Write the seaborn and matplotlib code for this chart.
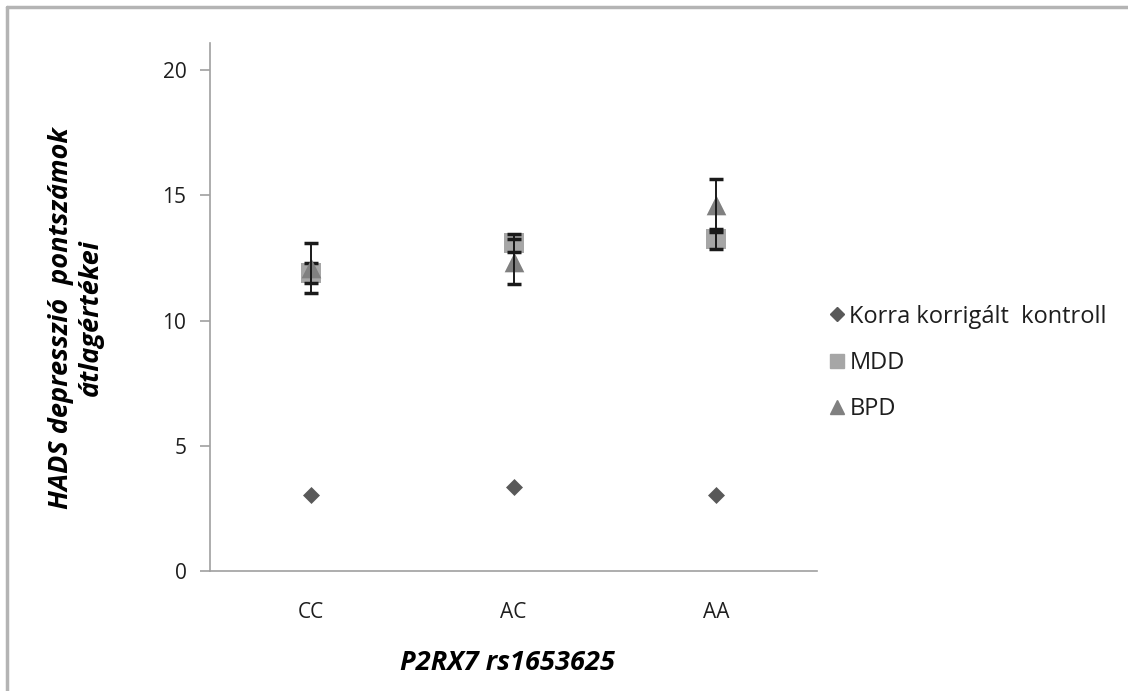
import numpy as np
import pandas as pd
import seaborn as sns
import matplotlib
matplotlib.use("Agg")
import matplotlib.pyplot as plt
from matplotlib.lines import Line2D

genotypes = ["CC", "AC", "AA"]
series_names = ["Korra korrigált  kontroll", "MDD", "BPD"]
control_mean = [3.03, 3.35, 3.03]
mdd_mean = [11.9, 13.1, 13.25]
mdd_err = [0.4, 0.35, 0.4]
bpd_mean = [12.1, 12.35, 14.6]
bpd_err = [1.0, 0.9, 1.05]
yticks = [0, 5, 10, 15, 20]

sns.set_theme(style="white")
FONT = ["Open Sans", "DejaVu Sans"]
plt.rcParams["font.family"] = FONT

fig = plt.figure(figsize=(11.28, 6.91), dpi=100)
ax = fig.add_axes([210/1128, 1 - 571/691, (817 - 210)/1128, (571 - 43)/691])

df = pd.DataFrame({
    "genotype": genotypes * 3,
    "group": [series_names[0]] * 3 + [series_names[1]] * 3 + [series_names[2]] * 3,
    "value": control_mean + mdd_mean + bpd_mean,
})
colors = {series_names[0]: "#595959", series_names[1]: "#a6a6a6", series_names[2]: "#808080"}
markers = {series_names[0]: "D", series_names[1]: "s", series_names[2]: "^"}
sizes = {series_names[0]: 75, series_names[1]: 190, series_names[2]: 200}

xpos = {g: i for i, g in enumerate(genotypes)}
df["x"] = df["genotype"].map(xpos)

errs = {series_names[1]: mdd_err, series_names[2]: bpd_err}
for k, name in enumerate(series_names):
    sub = df[df["group"] == name]
    sns.scatterplot(data=sub, x="x", y="value", marker=markers[name], color=colors[name],
                    s=sizes[name], linewidth=0, ax=ax, zorder=3 + 2 * k, legend=False)
    if name in errs:
        ax.errorbar(sub["x"], sub["value"], yerr=errs[name], fmt="none", ecolor="#1a1a1a",
                    elinewidth=1.4, capsize=5, capthick=2.5, zorder=4 + 2 * k)

ax.set_xlim(-0.5, 2.5)
ax.set_ylim(0, 21.08)
ax.set_yticks(yticks)
ax.set_yticklabels([str(t) for t in yticks], fontsize=15, color="#1e1e1e")
ax.set_xticks([0, 1, 2])
ax.set_xticklabels(genotypes, fontsize=15, color="#1e1e1e")
ax.set_xticks([-0.5, 0.5, 1.5, 2.5], minor=True)
ax.tick_params(axis="x", which="major", length=0, pad=22)
ax.tick_params(axis="x", which="minor", length=8, width=1.2, color="#a0a0a0", direction="out")
ax.tick_params(axis="y", length=7, width=1.2, color="#a0a0a0", direction="out", left=True, pad=10)
for s in ["top", "right"]:
    ax.spines[s].set_visible(False)
for s in ["left", "bottom"]:
    ax.spines[s].set_color("#a0a0a0")
    ax.spines[s].set_linewidth(1.2)
ax.set_xlabel("")
ax.set_ylabel("")

fig.text(76/1128, 1 - 318/691, "HADS depresszió  pontszámok\nátlagértékei", rotation=90,
         ha="center", va="center", multialignment="center", fontsize=19.5,
         fontweight="bold", fontstyle="italic", linespacing=1.2, color="black")
fig.text(508/1128, 1 - 663/691, "P2RX7 rs1653625", ha="center", va="center",
         fontsize=19.5, fontweight="bold", fontstyle="italic", color="black")

handles = [Line2D([], [], linestyle="none", marker=markers[n], color=colors[n],
                  markersize={"D": 7.5, "s": 10, "^": 10}[markers[n]]) for n in series_names]
fig.legend(handles, series_names, loc="center left", bbox_to_anchor=(828/1128, 1 - 363/691),
           frameon=False, fontsize=17, handletextpad=0.1, handlelength=0.8,
           labelspacing=0.95, borderaxespad=0, borderpad=0, labelcolor="#1e1e1e")

# outer border (top & left visible)
fig.add_artist(Line2D([7/1128, 1], [1 - 7/691, 1 - 7/691], color="#b4b4b4", lw=2.5,
                      transform=fig.transFigure))
fig.add_artist(Line2D([7/1128, 7/1128], [0, 1 - 7/691], color="#b4b4b4", lw=2.5,
                      transform=fig.transFigure))

fig.savefig("out.png", dpi=100)
